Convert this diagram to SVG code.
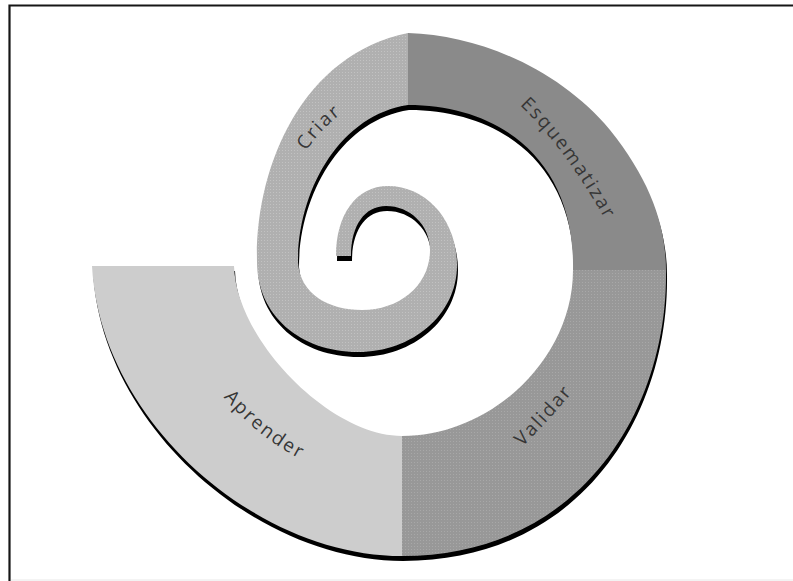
<svg xmlns="http://www.w3.org/2000/svg" xmlns:xlink="http://www.w3.org/1999/xlink" width="793" height="581" viewBox="0 0 793 581">
<style>
.shadow{fill:#000}
.label{font-family:"Open Sans","Noto Sans","DejaVu Sans",sans-serif;font-size:19px;fill:#363636;letter-spacing:2px}
.frame{fill:none;stroke:#161616;stroke-width:2.2}
</style>
<defs>
<pattern id="dots-light" width="3" height="3" patternUnits="userSpaceOnUse">
<rect width="3" height="3" fill="#b0b0b0"/>
<rect width="1" height="1" fill="#c2c2c2"/>
</pattern>
<pattern id="dots-mid" width="3" height="3" patternUnits="userSpaceOnUse">
<rect width="3" height="3" fill="#989898"/>
<rect width="1" height="1" fill="#a8a8a8"/>
</pattern>
<path id="shape-criar" d="M408,33 C300,55 255,170 257,262 C257,315 300,352 358,352 C412,352 457,315 457,265 C457,222 428,186 388,186 C356,186 336,215 336,256 L351,256 C351,225 365,206 386,206 C410,206 430,225 430,250 C430,285 400,310 362,310 C330,310 300,295 298,262 C298,190 340,115 408,105 Z"/>
<path id="shape-esq" d="M408,33 C480,35 560,70 610,130 C650,180 666,225 666,270 L573,270 C575,160 500,105 408,105 Z"/>
<path id="shape-val" d="M666,270 C668,410 580,556 402,556 L402,436 C490,436 573,360 573,270 Z"/>
<path id="shape-apr" d="M402,556 C255,556 100,420 92,266 L234,266 C236,340 330,436 402,436 Z"/>
<path id="tp-criar" d="M291,181 Q313,123.5 371,96"/>
<path id="tp-esq" d="M505,92 Q564,141 615,238"/>
<path id="tp-val" d="M508,461 Q549,421.5 586,376"/>
<path id="tp-apr" d="M214,386 C234,410 262,442 314,466"/>
</defs>
<path class="frame" d="M9.5,581 V5.5 H793"/>
<line x1="11" y1="580" x2="793" y2="580" stroke="#e8e8e8" stroke-width="1"/>
<g id="shadows" transform="translate(1,5)">
<use xlink:href="#shape-criar" class="shadow"/>
<use xlink:href="#shape-esq" class="shadow"/>
<use xlink:href="#shape-val" class="shadow"/>
<use xlink:href="#shape-apr" class="shadow"/>
</g>
<g id="node-criar">
<use xlink:href="#shape-criar" fill="url(#dots-light)"/>
<text class="label"><textPath xlink:href="#tp-criar" startOffset="50%" text-anchor="middle">Criar</textPath></text>
</g>
<g id="node-esquematizar">
<use xlink:href="#shape-esq" fill="#8a8a8a"/>
<text class="label"><textPath xlink:href="#tp-esq" startOffset="50%" text-anchor="middle">Esquematizar</textPath></text>
</g>
<g id="node-validar">
<use xlink:href="#shape-val" fill="url(#dots-mid)"/>
<text class="label"><textPath xlink:href="#tp-val" startOffset="50%" text-anchor="middle">Validar</textPath></text>
</g>
<g id="node-aprender">
<use xlink:href="#shape-apr" fill="#cdcdcd"/>
<text class="label"><textPath xlink:href="#tp-apr" startOffset="50%" text-anchor="middle">Aprender</textPath></text>
</g>
<g id="connectors"/>
</svg>
